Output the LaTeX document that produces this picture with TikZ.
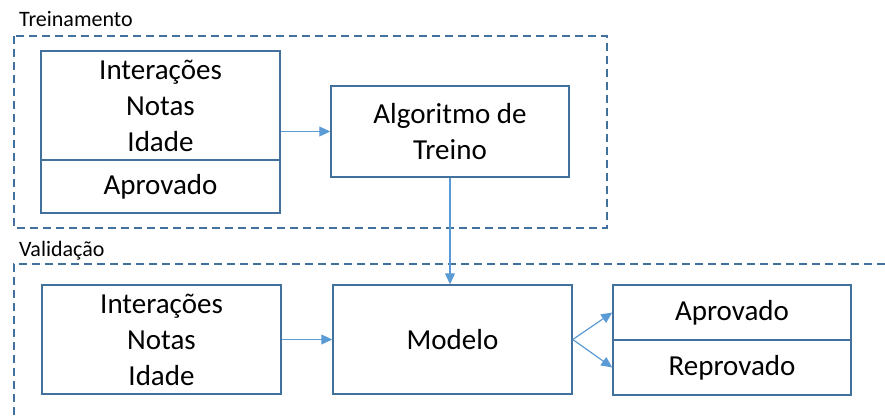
\documentclass[tikz,border=0pt]{standalone}
\usepackage{fontspec}
\setmainfont{Carlito}
\usepackage{tikz}
\usetikzlibrary{arrows.meta}
\definecolor{boxblue}{HTML}{41719C}
\definecolor{arrowblue}{HTML}{5B9BD5}
\definecolor{groupblue}{HTML}{41719C}

\begin{document}
\begin{tikzpicture}[x=1pt, y=-1pt,
    box/.style={draw=boxblue, line width=1.5pt, align=center, inner sep=0pt, font=\fontsize{29}{36}\selectfont},
    flow/.style={draw=arrowblue, line width=1.2pt, -{Triangle[length=11pt,width=10pt]}},
    group/.style={draw=groupblue, line width=1.5pt, dash pattern=on 8pt off 5pt},
    grouplabel/.style={anchor=base west, inner sep=0pt, font=\fontsize{22}{26}\selectfont}]
    \useasboundingbox (0,0) rectangle (885,416);
    \node[grouplabel] (trainlbl) at (19,26.5) {Treinamento};
    \draw[group] (14,36) rectangle (607,228);
    \node[box, minimum width=239pt, minimum height=109pt] (trainfeat) at (160.5,105.5) {Interações\\Notas\\Idade};
    \node[box, minimum width=239pt, minimum height=53pt] (trainclass) at (160.5,186.5) {Aprovado};
    \node[box, minimum width=238pt, minimum height=91pt] (algo) at (450,131.5) {Algoritmo de\\Treino};
    \node[grouplabel] (vallbl) at (19,256.5) {Validação};
    \draw[group] (885,264) -- (14,264) -- (14,416);
    \node[box, minimum width=239pt, minimum height=109pt] (valfeat) at (161.5,339.5) {Interações\\Notas\\Idade};
    \node[box, minimum width=239pt, minimum height=109pt] (model) at (452.5,339.5) {Modelo};
    \node[box, minimum width=238pt, minimum height=55pt] (pass) at (732,312.5) {Aprovado};
    \node[box, minimum width=238pt, minimum height=55pt] (fail) at (732,367.5) {Reprovado};
    \draw[flow] (trainfeat.east |- algo.west) -- (algo.west);
    \draw[flow] (algo.south) -- (algo.south |- model.north);
    \draw[flow] (valfeat.east) -- (model.west);
    \draw[flow] (model.east) -- (pass.west);
    \draw[flow] (model.east) -- (fail.west);
\end{tikzpicture}
\end{document}
